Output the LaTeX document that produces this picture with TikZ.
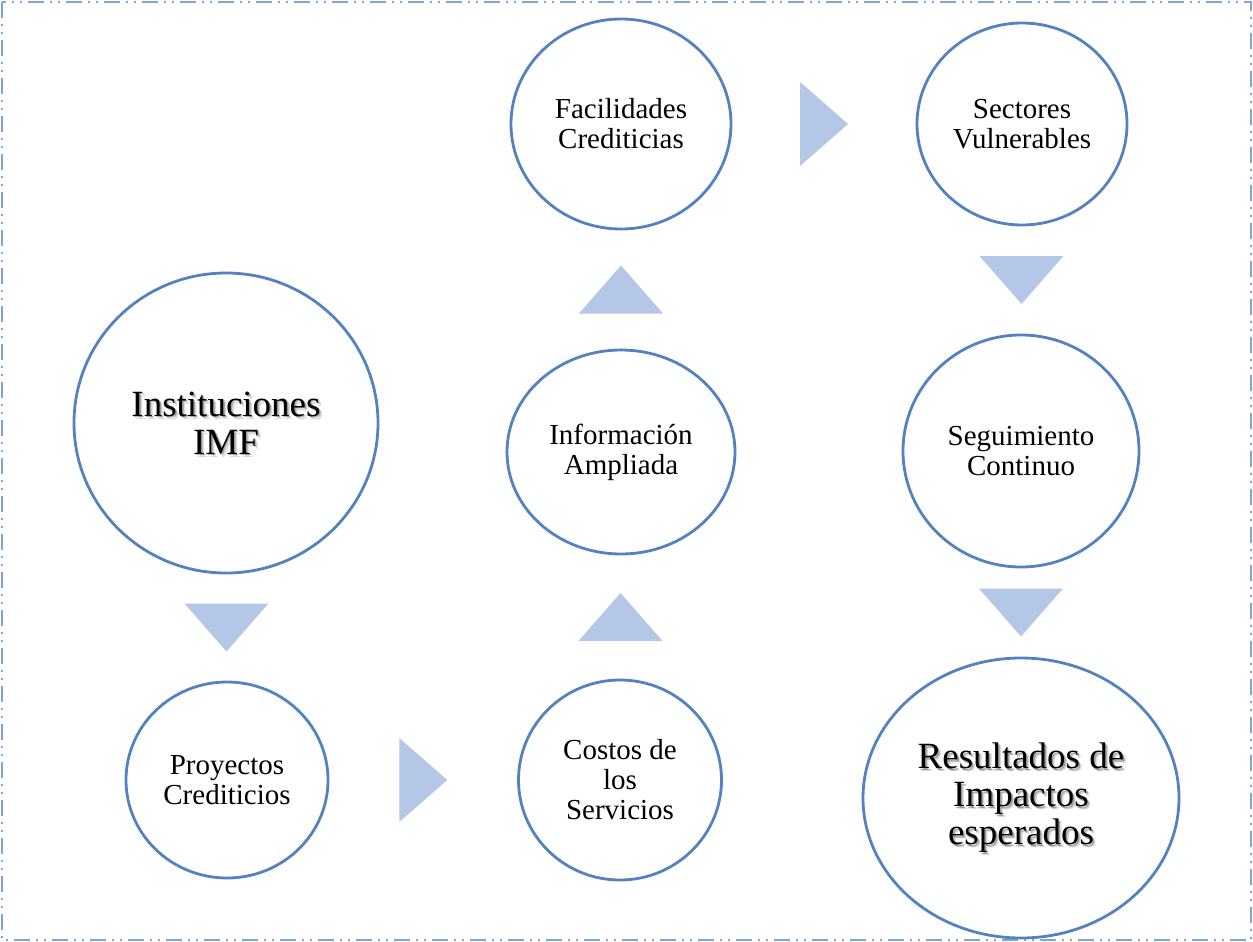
\documentclass[tikz,border=0pt]{standalone}
\usepackage{fontspec}
\setmainfont{Liberation Serif}
\usetikzlibrary{positioning,calc,shapes.geometric,backgrounds}
\definecolor{circblue}{RGB}{84,130,190}
\definecolor{frameblue}{RGB}{125,166,214}
\definecolor{triblue}{RGB}{180,199,231}

\begin{document}
\begin{tikzpicture}[x=0.5pt,y=-0.5pt,
circ/.style={ellipse,draw=circblue,line width=1.4pt,inner sep=0pt,outer sep=0pt,align=center,font=\fontsize{14.5}{15}\selectfont},
big/.style={circ,font=\fontsize{18.5}{19}\selectfont},
shade/.style={align=center,font=\fontsize{18.5}{19}\selectfont,text=black,text opacity=#1},
tri/.style={fill=triblue}]
\useasboundingbox (0,0) rectangle (1253,942);
\draw[frameblue,line width=1pt,dash pattern=on 8pt off 3pt on 1pt off 3pt on 1pt off 3pt] (2,2) rectangle (1251,940);
% circles
\node[big,minimum width=152pt,minimum height=150pt] (inst) at (226,423) {Instituciones\\IMF};
\node[circ,minimum width=101pt,minimum height=98pt] (proy) at (227,780) {Proyectos\\Crediticios};
\node[circ,minimum width=101.5pt,minimum height=100pt] (costos) at (620,780) {Costos de\\los\\Servicios};
\node[circ,minimum width=114pt,minimum height=102pt] (info) at (621,452) {Información\\Ampliada};
\node[circ,minimum width=110pt,minimum height=105pt] (facil) at (621,124) {Facilidades\\Crediticias};
\node[circ,minimum width=105pt,minimum height=101pt] (sect) at (1022,124) {Sectores\\Vulnerables};
\node[circ,minimum width=118pt,minimum height=116pt] (segu) at (1021,451) {Seguimiento\\Continuo};
\node[big,minimum width=158pt,minimum height=140pt] (res) at (1021,798) {Resultados de\\Impactos\\esperados};
% soft shadow behind the large labels
\begin{scope}[on background layer]
\foreach \d/\o in {1.5/.3,3/.15} {
  \node[shade=\o] (instsh) at ([shift={(\d,\d)}]inst.center) {Instituciones\\IMF};
  \node[shade=\o] (ressh) at ([shift={(\d,\d)}]res.center) {Resultados de\\Impactos\\esperados};
}
\end{scope}
% triangles between the circles
\foreach \a/\b/\r in {inst.south/proy.north/-90,proy.east/costos.west/0,costos.north/info.south/90,
  info.north/facil.south/90,facil.east/sect.west/0,sect.south/segu.north/-90,segu.south/res.north/-90}
  \fill[tri,shift={($(\a)!.5!(\b)$)},rotate=\r] (-24,-42) -- (-24,42) -- (24,0) -- cycle;
\end{tikzpicture}
\end{document}
